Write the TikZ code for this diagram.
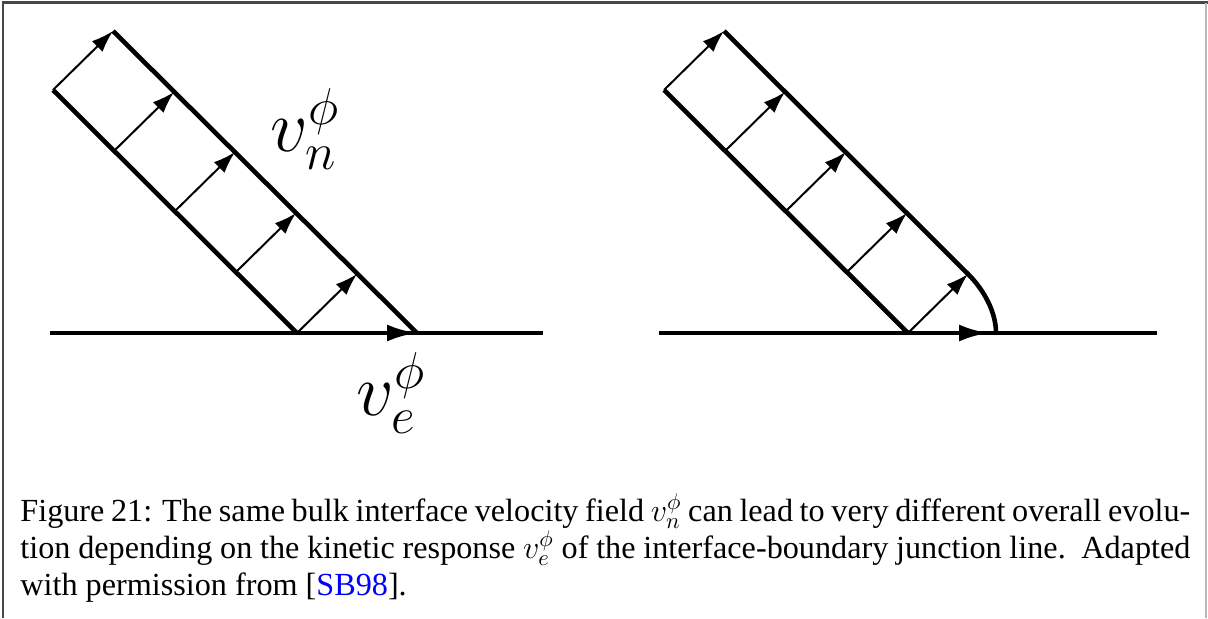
\RequirePackage{fix-cm}
\documentclass[tikz,border=0pt]{standalone}
\usepackage{fontspec}
\setmainfont{Liberation Serif}
\usepackage{xcolor}
\usetikzlibrary{arrows.meta}
\begin{document}
\begin{tikzpicture}[x=0.5pt,y=-0.5pt,
  wall/.style={line width=2.3pt, line cap=butt, line join=miter},
  vel/.style={line width=1pt, -{Latex[length=11pt,width=7.5pt]}},
  edgevel/.style={line width=2.3pt, -{Latex[length=15pt,width=8.5pt]}},
  lab/.style={inner sep=0pt, font=\fontsize{37}{44}\selectfont},
  captext/.style={inner sep=0pt, font=\fontsize{16.1}{18.5}\selectfont},
]
\useasboundingbox (0,0) rectangle (1208,618);
% frame
\draw[line width=1.1pt, black!72] (3,618) -- (3,2.5) -- (1208,2.5);
\draw[line width=0.9pt, black!28] (1206,3) -- (1206,618);

% ---------- left figure ----------
\coordinate (AL) at (50,333);
\coordinate (AR) at (543,333);
\coordinate (A0) at (53,90);
\coordinate (A1) at (114,151);
\coordinate (A2) at (175,211);
\coordinate (A3) at (236,272);
\coordinate (A4) at (297,333);
\coordinate (B0) at (113,31);
\coordinate (B1) at (174,92);
\coordinate (B2) at (235,152);
\coordinate (B3) at (296,213);
\coordinate (B4) at (357,274);
\coordinate (AE) at (417,333);
\draw[wall] (AL) -- (AR);
\draw[wall] (A0) -- (A4);
\draw[wall] (B0) -- (AE);
\foreach \i in {0,...,4} \draw[vel] (A\i) -- (B\i);
\draw[edgevel] (A4) -- (AE);
\node[lab, anchor=base west] (vn) at (270,151) {$v_n^\phi$};
\node[lab, anchor=base west] (ve) at (356,415) {$v_e^\phi$};

% ---------- right figure ----------
\coordinate (CL) at (659,333);
\coordinate (CR) at (1157,333);
\coordinate (C0) at (664,90);
\coordinate (C1) at (725,151);
\coordinate (C2) at (786,211);
\coordinate (C3) at (847,272);
\coordinate (C4) at (908,333);
\coordinate (D0) at (724,31);
\coordinate (D1) at (785,92);
\coordinate (D2) at (846,152);
\coordinate (D3) at (907,213);
\coordinate (D4) at (968,274);
\coordinate (CE) at (996,333);
\coordinate (CT) at (989,333);
\draw[wall] (CL) -- (CR);
\draw[wall] (C0) -- (C4);
\draw[wall] (D0) -- (D4) .. controls (984,290) and (996,312) .. (CE);
\foreach \i in {0,...,4} \draw[vel] (C\i) -- (D\i);
\draw[edgevel] (C4) -- (CT);

% ---------- caption ----------
\node[captext, anchor=base west] (cap) at (20,521) {\parbox[t]{585pt}{%
\hbox to 585pt{Figure 21: The same bulk interface velocity field $v_n^\phi$ can lead to very different overall evolu-}%
\hbox to 585pt{tion depending on the kinetic response $v_e^\phi$ of the interface-boundary junction line.\ \ Adapted}%
\hbox{with permission from [\textcolor{blue}{SB98}].}}};
\end{tikzpicture}
\end{document}
